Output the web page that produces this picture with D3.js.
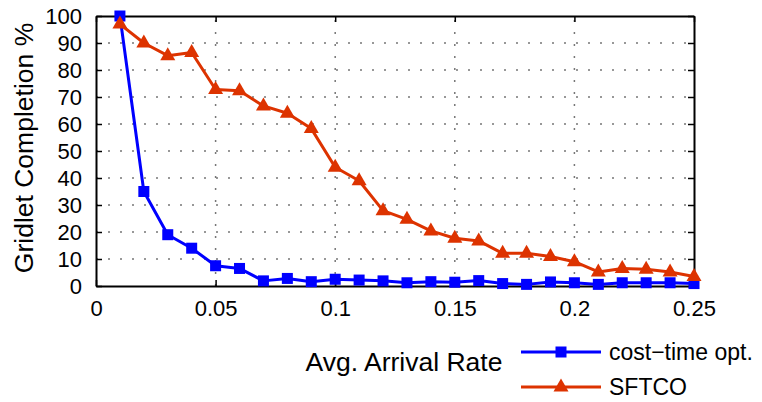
<!DOCTYPE html>
<html>
<head>
<meta charset="utf-8">
<script src="https://cdn.jsdelivr.net/npm/d3@7"></script>
<style>
    body { margin: 0; background: #fff; }
    svg text { font-family: "Liberation Sans", Arial, sans-serif; fill: #000; }
</style>
</head>
<body>
<div id="chart"></div>
<script>
// Data
const arrivalRates = [0.01, 0.02, 0.03, 0.04, 0.05, 0.06, 0.07, 0.08, 0.09, 0.10,
    0.11, 0.12, 0.13, 0.14, 0.15, 0.16, 0.17, 0.18, 0.19, 0.20,
    0.21, 0.22, 0.23, 0.24, 0.25];
const costTimeOpt = [100, 35, 19, 14, 7.5, 6.5, 1.9, 2.8, 1.6, 2.5,
    2.2, 1.9, 1.2, 1.6, 1.4, 2.0, 0.9, 0.6, 1.5, 1.2,
    0.6, 1.2, 1.2, 1.2, 0.9];
const sftco = [97, 90, 85.3, 86.5, 72.8, 72.3, 66.7, 64, 58.3, 44,
    39, 27.9, 24.7, 20.4, 17.7, 16.7, 12.1, 12.1, 10.9, 9.0,
    5.2, 6.5, 6.2, 5.2, 3.5];
const xTicks = [0, 0.05, 0.1, 0.15, 0.2, 0.25];
const xTickLabels = ["0", "0.05", "0.1", "0.15", "0.2", "0.25"];
const yTicks = [0, 10, 20, 30, 40, 50, 60, 70, 80, 90, 100];
const seriesNames = ["cost\u2212time opt.", "SFTCO"];

const width = 762;
const height = 402;
const blue = "#0000ff";
const red = "#dd3300";

const svg = d3.select("#chart")
    .append("svg")
    .attr("width", width)
    .attr("height", height);

const x = d3.scaleLinear().domain([0, 0.25]).range([96, 694]);
const y = d3.scaleLinear().domain([0, 100]).range([286, 16]);

// Dotted grid
const grid = svg.append("g")
    .attr("stroke", "#777")
    .attr("stroke-width", 1.5)
    .attr("stroke-dasharray", "2,10");

grid.selectAll(".gx")
    .data(xTicks.slice(1, -1))
    .enter().append("line")
    .attr("x1", d => x(d)).attr("x2", d => x(d))
    .attr("y1", y(0)).attr("y2", y(100));

grid.selectAll(".gy")
    .data(yTicks.slice(1, -1))
    .enter().append("line")
    .attr("x1", x(0)).attr("x2", x(0.25))
    .attr("y1", d => y(d)).attr("y2", d => y(d));

// Axes: ticks pointing inward, box on all sides
const tickLen = 6;
svg.append("g")
    .attr("transform", `translate(0,${y(0)})`)
    .call(d3.axisBottom(x).tickValues(xTicks).tickFormat((d, i) => xTickLabels[i])
        .tickSizeInner(-tickLen).tickSizeOuter(0).tickPadding(14))
    .call(g => g.selectAll("text").attr("font-size", 22));

svg.append("g")
    .attr("transform", `translate(0,${y(100)})`)
    .call(d3.axisTop(x).tickValues(xTicks).tickFormat("")
        .tickSizeInner(-tickLen).tickSizeOuter(0));

svg.append("g")
    .attr("transform", `translate(${x(0)},0)`)
    .call(d3.axisLeft(y).tickValues(yTicks)
        .tickSizeInner(-tickLen).tickSizeOuter(0).tickPadding(14))
    .call(g => g.selectAll("text").attr("font-size", 22));

svg.append("g")
    .attr("transform", `translate(${x(0.25)},0)`)
    .call(d3.axisRight(y).tickValues(yTicks).tickFormat("")
        .tickSizeInner(-tickLen).tickSizeOuter(0));

svg.selectAll(".domain").attr("stroke", "#000").attr("stroke-width", 2);
svg.selectAll(".tick line").attr("stroke", "#000").attr("stroke-width", 1.5);
svg.selectAll(".tick text").attr("font-family", "Liberation Sans, Arial, sans-serif");

// Axis labels
svg.append("text")
    .attr("transform", `translate(33,${(y(0) + y(100)) / 2 - 3}) rotate(-90)`)
    .attr("text-anchor", "middle")
    .attr("font-size", 26.5)
    .text("Gridlet Completion %");

svg.append("text")
    .attr("x", 404)
    .attr("y", 371)
    .attr("text-anchor", "middle")
    .attr("font-size", 26.5)
    .text("Avg. Arrival Rate");

// Series
const line = d3.line()
    .x((d, i) => x(arrivalRates[i]))
    .y(d => y(d));

const triangle = "M0,-8.5L7.5,4.5L-7.5,4.5Z";

function drawSeries(values, color, marker) {
    svg.append("path")
        .datum(values)
        .attr("fill", "none")
        .attr("stroke", color)
        .attr("stroke-width", 3)
        .attr("stroke-linejoin", "round")
        .attr("d", line);

    const pts = svg.append("g")
        .selectAll("g")
        .data(values)
        .enter().append("g")
        .attr("transform", (d, i) => `translate(${x(arrivalRates[i])},${y(d)})`);

    if (marker === "square") {
        pts.append("rect")
            .attr("x", -5.5).attr("y", -5.5)
            .attr("width", 11).attr("height", 11)
            .attr("fill", color);
    } else {
        pts.append("path")
            .attr("d", triangle)
            .attr("fill", color);
    }
}

drawSeries(costTimeOpt, blue, "square");
drawSeries(sftco, red, "triangle");

// Legend
const legend = svg.append("g");
const legendItems = [
    { name: seriesNames[0], color: blue, marker: "square", y: 352 },
    { name: seriesNames[1], color: red, marker: "triangle", y: 387 }
];

legendItems.forEach(item => {
    legend.append("line")
        .attr("x1", 521).attr("x2", 601)
        .attr("y1", item.y).attr("y2", item.y)
        .attr("stroke", item.color)
        .attr("stroke-width", 3);
    if (item.marker === "square") {
        legend.append("rect")
            .attr("x", 561 - 5.5).attr("y", item.y - 5.5)
            .attr("width", 11).attr("height", 11)
            .attr("fill", item.color);
    } else {
        legend.append("path")
            .attr("transform", `translate(561,${item.y})`)
            .attr("d", triangle)
            .attr("fill", item.color);
    }
    legend.append("text")
        .attr("x", 609)
        .attr("y", item.y + 8)
        .attr("font-size", 23)
        .text(item.name);
});
</script>
</body>
</html>
